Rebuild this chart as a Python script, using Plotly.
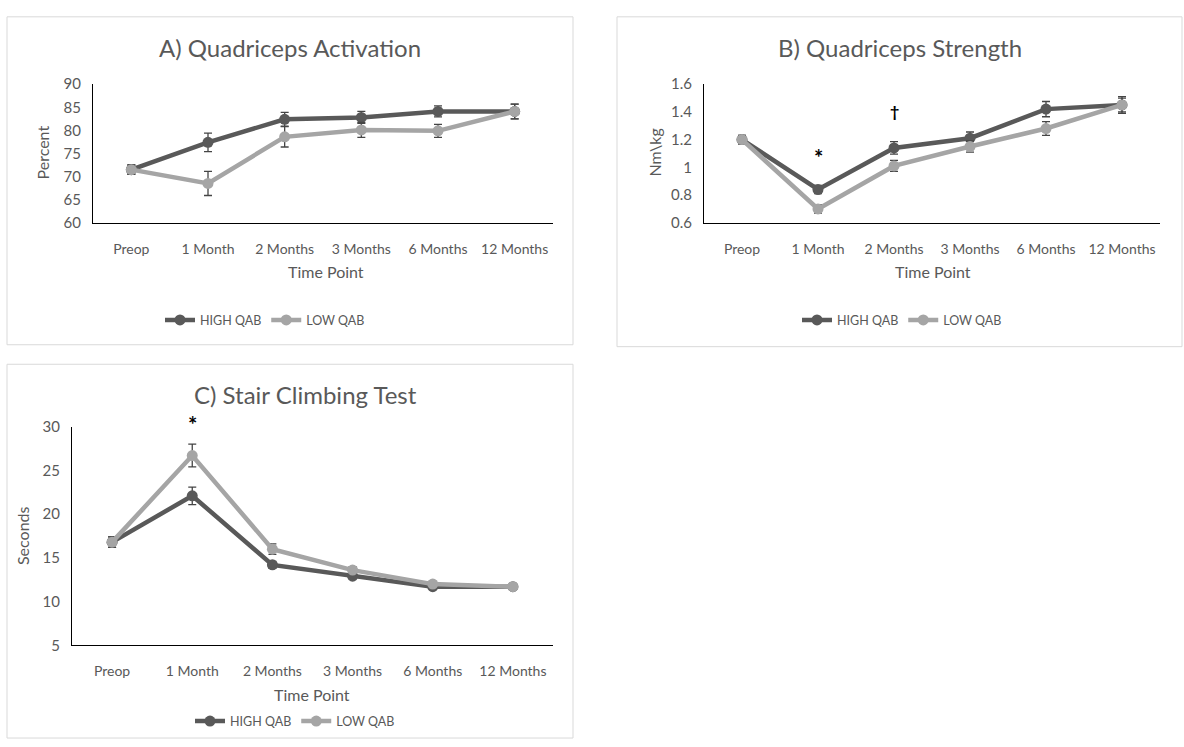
import plotly.graph_objects as go

W, H = 1184, 747

categories = ["Preop", "1 Month", "2 Months", "3 Months", "6 Months", "12 Months"]

# Panel A: Quadriceps Activation (Percent)
a_high = [71.5, 77.4, 82.4, 82.8, 84.1, 84.1]
a_high_err = [1.0, 2.0, 1.5, 1.3, 1.2, 1.6]
a_low = [71.5, 68.5, 78.6, 80.1, 79.9, 84.1]
a_low_err = [1.0, 2.6, 2.2, 1.6, 1.4, 1.6]

# Panel B: Quadriceps Strength (Nm\kg)
b_high = [1.20, 0.84, 1.14, 1.21, 1.42, 1.45]
b_high_err = [0.03, 0.03, 0.045, 0.045, 0.055, 0.05]
b_low = [1.20, 0.70, 1.01, 1.15, 1.28, 1.45]
b_low_err = [0.03, 0.03, 0.04, 0.04, 0.05, 0.06]

# Panel C: Stair Climbing Test (Seconds)
c_high = [16.8, 22.1, 14.2, 12.9, 11.7, 11.7]
c_high_err = [0.6, 1.0, 0.4, 0.3, 0.3, 0.2]
c_low = [16.8, 26.7, 16.0, 13.6, 12.0, 11.7]
c_low_err = [0.6, 1.3, 0.6, 0.4, 0.3, 0.3]

HIGH_COLOR = "#595959"
LOW_COLOR = "#A5A5A5"
ERR_COLOR = "#454545"
TEXT = "#595959"
FONT = "Lato"


def px(x):
    return x / W


def py(y):
    return 1 - y / H


fig = go.Figure()


def add_series(xa, ya, high, high_err, low, low_err, legend):
    for name, vals, errs, color in [("HIGH QAB", high, high_err, HIGH_COLOR),
                                    ("LOW QAB", low, low_err, LOW_COLOR)]:
        fig.add_trace(go.Scatter(
            x=categories, y=vals, name=name, mode="lines+markers",
            line=dict(color=color, width=4.5),
            marker=dict(color=color, size=11),
            error_y=dict(type="data", array=errs, visible=True,
                         color=ERR_COLOR, thickness=1.3, width=4),
            xaxis=xa, yaxis=ya, legend=legend,
        ))


add_series("x", "y", a_high, a_high_err, a_low, a_low_err, "legend")
add_series("x2", "y2", b_high, b_high_err, b_low, b_low_err, "legend2")
add_series("x3", "y3", c_high, c_high_err, c_low, c_low_err, "legend3")

xcommon = dict(type="category", range=[-0.5, 5.5], showline=True, linecolor="#000000",
               linewidth=1, showgrid=False, zeroline=False, ticks="outside", ticklen=13,
               tickcolor="rgba(0,0,0,0)", tickfont=dict(size=14, color=TEXT, family=FONT))
ycommon = dict(showline=True, linecolor="#000000", linewidth=1, showgrid=False,
               zeroline=False, ticks="outside", ticklen=8, tickcolor="rgba(0,0,0,0)",
               tickfont=dict(size=15, color=TEXT, family=FONT))

legfont = dict(size=12.5, color=TEXT, family=FONT)

fig.update_layout(
    width=W, height=H, margin=dict(l=0, r=0, t=0, b=0),
    paper_bgcolor="white", plot_bgcolor="white",
    font=dict(family=FONT, color=TEXT),
    xaxis=dict(domain=[px(93), px(553)], anchor="y", **xcommon),
    yaxis=dict(domain=[py(218), py(76)], anchor="x", range=[60, 90], dtick=5, **ycommon),
    xaxis2=dict(domain=[px(704), px(1160)], anchor="y2", **xcommon),
    yaxis2=dict(domain=[py(218), py(76)], anchor="x2", range=[0.6, 1.6], dtick=0.2,
                tickformat="~g", **ycommon),
    xaxis3=dict(domain=[px(72), px(553)], anchor="y3", **xcommon),
    yaxis3=dict(domain=[py(651), py(427)], anchor="x3", range=[5, 30], dtick=5, **ycommon),
    legend=dict(orientation="h", x=px(265), y=py(318), xanchor="center", yanchor="middle",
                font=legfont, bgcolor="rgba(0,0,0,0)"),
    legend2=dict(orientation="h", x=px(902), y=py(318), xanchor="center", yanchor="middle",
                 font=legfont, bgcolor="rgba(0,0,0,0)"),
    legend3=dict(orientation="h", x=px(295), y=py(729), xanchor="center", yanchor="middle",
                 font=legfont, bgcolor="rgba(0,0,0,0)"),
)

# panel borders
for (x0, y0, x1, y1) in [(7, 7, 573, 343), (617, 7, 1182, 345), (7, 363, 573, 746)]:
    fig.add_shape(type="rect", xref="paper", yref="paper",
                  x0=px(x0), x1=px(x1), y0=py(y1), y1=py(y0),
                  line=dict(color="#D9D9D9", width=1), fillcolor="rgba(0,0,0,0)", layer="below")

# titles
for text, x, y in [("A) Quadriceps Activation", 290, 38),
                   ("B) Quadriceps Strength", 900, 38),
                   ("C) Stair Climbing Test", 305, 394)]:
    fig.add_annotation(text=text, x=px(x), y=py(y), xref="paper", yref="paper",
                       showarrow=False, xanchor="center", yanchor="middle",
                       font=dict(size=24, color=TEXT, family=FONT))

# axis titles
for text, x, y, ang in [("Time Point", 326, 268, 0), ("Percent", 42, 146, -90),
                        ("Time Point", 933, 268, 0), ("Nm\\kg", 654, 146, -90),
                        ("Time Point", 312, 701, 0), ("Seconds", 22, 539, -90)]:
    fig.add_annotation(text=text, x=px(x), y=py(y), xref="paper", yref="paper",
                       showarrow=False, xanchor="center", yanchor="middle", textangle=ang,
                       font=dict(size=16, color=TEXT, family=FONT))

# significance markers
fig.add_annotation(text="<b>*</b>", x="1 Month", y=1.07, xref="x2", yref="y2", showarrow=False,
                   font=dict(size=22, color="#000000", family=FONT))
fig.add_annotation(text="<b>†</b>", x="2 Months", y=1.41, xref="x2", yref="y2", showarrow=False,
                   font=dict(size=16, color="#000000", family=FONT))
fig.add_annotation(text="<b>*</b>", x="1 Month", y=py(425), xref="x3", yref="paper",
                   showarrow=False, yanchor="middle",
                   font=dict(size=22, color="#000000", family=FONT))

fig.write_html(
    "out.html",
    config={"displayModeBar": False},
    post_script="document.body.style.margin='0px';document.body.style.overflow='hidden';"
                "document.documentElement.style.overflow='hidden';",
)
